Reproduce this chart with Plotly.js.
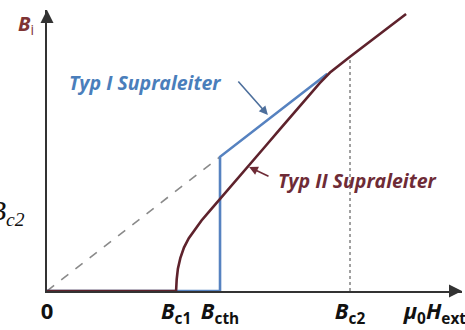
<!DOCTYPE html>
<html>
<head>
<meta charset="utf-8">
<script src="https://cdn.plot.ly/plotly-3.0.1.min.js"></script>
<style>
  html, body { margin: 0; padding: 0; background: #fff; }
  #chart { width: 465px; height: 330px; }
</style>
</head>
<body>
<div id="chart"></div>
<script>
// Field values in units of B_c2 (mu0*H_ext on x, internal field B_i on y)
const Bc1 = 0.426;
const Bcth = 0.571;
const Bc2 = 1.0;

// Type II superconductor: B_i = 0 up to B_c1, then rising to meet B = mu0*H
const typ2H = [0, 0.426, 0.428, 0.432, 0.440, 0.452, 0.468, 0.488, 0.510, 0.535, 0.571, 0.597, 0.621, 0.670, 0.720, 0.769, 0.820, 0.868, 0.900, 0.934, 0.965, 1.000, 1.185];
const typ2B = [0, 0,     0.050, 0.095, 0.140, 0.185, 0.225, 0.262, 0.300, 0.338, 0.391, 0.430, 0.466, 0.540, 0.615, 0.689, 0.765, 0.837, 0.885, 0.930, 0.962, 0.997, 1.179];

// Type I superconductor: B_i = 0 up to B_cth, then jumps onto B = mu0*H
const typ1H = [0, 0.571, 0.571, 0.925];
const typ1B = [0, 0,     0.571, 0.925];

// Reference line B = mu0*H below B_cth
const refH = [0, 0.571];
const refB = [0, 0.571];

// Vertical marker at B_c2
const c2H = [1.0, 1.0];
const c2B = [0, 0.995];

// x tick positions and labels
const tickVals = [0, Bc1, Bcth, Bc2, 1.28];
const tickText = [
  '0',
  '<i>B</i><sub>c1</sub>',
  '<i>B</i><sub>cth</sub>',
  '<i>B</i><sub>c2</sub>',
  '<i>μ</i><sub>0</sub><i>H</i><sub>ext</sub>'
];

const BROWN = '#5e222c';
const BLUE = '#5682c0';
const AXIS = '#333333';
const FONT = 'Open Sans, Noto Sans, sans-serif';

const traces = [
  { x: refH, y: refB, mode: 'lines', line: { color: '#8a8a8a', width: 1.6, dash: 'dash' }, cliponaxis: false, hoverinfo: 'skip' },
  { x: c2H, y: c2B, mode: 'lines', line: { color: '#8a8a8a', width: 1.6, dash: 'dot' }, cliponaxis: false, hoverinfo: 'skip' },
  { x: typ1H, y: typ1B, mode: 'lines', line: { color: BLUE, width: 2.6 }, cliponaxis: false, hoverinfo: 'skip' },
  { x: typ2H, y: typ2B, mode: 'lines', line: { color: BROWN, width: 2.6 }, cliponaxis: false, hoverinfo: 'skip' }
];

const layout = {
  width: 465,
  height: 330,
  margin: { l: 47, r: 3, t: 10, b: 39 },
  paper_bgcolor: '#ffffff',
  plot_bgcolor: '#ffffff',
  showlegend: false,
  xaxis: {
    range: [0, 1.3696],
    showgrid: false,
    zeroline: false,
    showline: true,
    linecolor: AXIS,
    linewidth: 2,
    ticks: '',
    tickvals: tickVals,
    ticktext: tickText,
    ticklabeloverflow: 'allow',
    tickfont: { family: FONT, size: 22, color: '#111111', weight: 'bold' },
    fixedrange: true
  },
  yaxis: {
    range: [0, 1.196],
    showgrid: false,
    zeroline: false,
    showline: true,
    linecolor: AXIS,
    linewidth: 2,
    showticklabels: false,
    ticks: '',
    fixedrange: true
  },
  annotations: [
    // axis arrowheads
    { x: 1.3696, y: 0, ax: 1.33, ay: 0, xref: 'x', yref: 'y', axref: 'x', ayref: 'y',
      showarrow: true, arrowhead: 2, arrowsize: 1.3, arrowwidth: 2, arrowcolor: AXIS, text: '' },
    { x: 0, y: 1.196, ax: 0, ay: 1.15, xref: 'x', yref: 'y', axref: 'x', ayref: 'y',
      showarrow: true, arrowhead: 2, arrowsize: 1.3, arrowwidth: 2, arrowcolor: AXIS, text: '' },
    // y axis label
    { x: -0.05, y: 0.947, xref: 'paper', yref: 'paper', xanchor: 'center', yanchor: 'middle', showarrow: false,
      text: '<b><i>B</i></b><sub>i</sub>', font: { family: FONT, size: 20, color: '#7e3434' } },
    // curve labels with pointers
    { x: 0.729, y: 0.749, ax: 0.627, ay: 0.898, xref: 'x', yref: 'y', axref: 'x', ayref: 'y',
      showarrow: true, arrowhead: 2, arrowsize: 1.1, arrowwidth: 1.6, arrowcolor: '#4d6f9c', text: '' },
    { x: 0.322, y: 0.889, xref: 'x', yref: 'y', xanchor: 'center', yanchor: 'middle', showarrow: false,
      text: '<b><i>Typ I Supraleiter</i></b>', font: { family: FONT, size: 19.5, color: '#4a7ebb' } },
    { x: 0.667, y: 0.528, ax: 0.736, ay: 0.485, xref: 'x', yref: 'y', axref: 'x', ayref: 'y',
      showarrow: true, arrowhead: 2, arrowsize: 1.1, arrowwidth: 1.6, arrowcolor: '#6e2b36', text: '' },
    { x: 0.757, y: 0.472, xref: 'x', yref: 'y', xanchor: 'left', yanchor: 'middle', showarrow: false,
      text: '<b><i>Typ II Supraleiter</i></b>', font: { family: FONT, size: 19.5, color: '#6e2b36' } },
    // side formula, partly outside the canvas
    { x: -0.145, y: 0.281, xref: 'paper', yref: 'paper', xanchor: 'left', yanchor: 'middle', showarrow: false,
      text: '<i>B</i><sub><i>c2</i></sub>', font: { family: 'Liberation Serif, DejaVu Serif, serif', size: 28, color: '#111111' } }
  ]
};

Plotly.newPlot('chart', traces, layout, { staticPlot: true, displayModeBar: false });
</script>
</body>
</html>
